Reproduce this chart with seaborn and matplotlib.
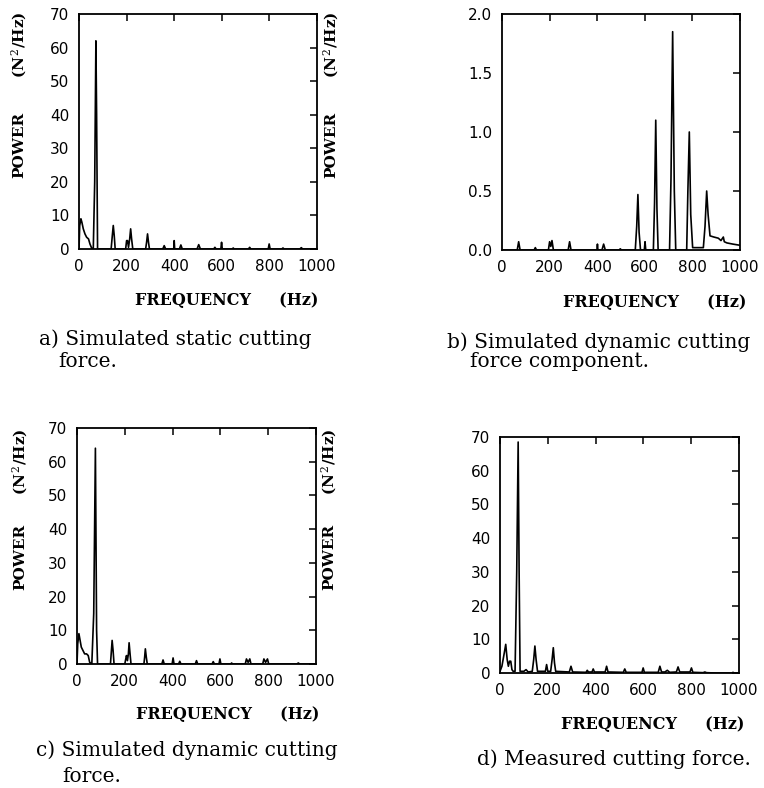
import matplotlib
matplotlib.use("Agg")
import matplotlib.pyplot as plt
import seaborn as sns
import pandas as pd

# ---- data (frequency Hz, power) ----
static_pts = [(0, 0), (3, 7), (8, 9), (12, 8), (18, 6), (25, 4.5), (32, 3.5), (40, 3), (46, 1.5),
              (53, 0.3), (60, 0), (66, 20), (71, 62), (74, 40), (78, 0), (135, 0), (140, 4),
              (144, 7), (148, 4), (152, 0), (196, 0), (200, 2.5), (204, 2.5), (208, 0.5),
              (213, 3), (217, 6), (221, 3), (226, 0), (280, 0), (284, 2), (288, 4.5), (292, 2),
              (296, 0), (352, 0), (358, 1), (364, 0), (398, 0), (400, 2.5), (402, 0), (422, 0),
              (428, 1.2), (434, 0), (496, 0), (503, 1.3), (510, 0), (566, 0), (571, 0.5),
              (576, 0), (596, 0), (599, 2), (602, 0), (644, 0), (648, 0.3), (652, 0), (712, 0),
              (717, 0.5), (722, 0), (795, 0), (799, 1.5), (803, 0), (852, 0), (857, 0.3),
              (862, 0), (928, 0), (934, 0.4), (940, 0), (1000, 0)]

dyn_comp_pts = [(0, 0), (64, 0), (70, 0.07), (76, 0), (135, 0), (140, 0.02), (145, 0), (195, 0),
                (200, 0.07), (205, 0.03), (210, 0.08), (216, 0), (278, 0), (284, 0.07), (290, 0),
                (399, 0), (401, 0.05), (403, 0), (420, 0), (427, 0.05), (434, 0), (492, 0),
                (497, 0.01), (502, 0), (560, 0), (566, 0.2), (571, 0.47), (576, 0.15), (582, 0),
                (598, 0), (601, 0.07), (604, 0), (636, 0), (641, 0.4), (646, 1.1), (651, 0.35),
                (656, 0), (704, 0), (710, 0.6), (717, 1.85), (724, 0.5), (730, 0), (776, 0),
                (781, 0.5), (787, 1.0), (793, 0.3), (801, 0.02), (846, 0.02), (853, 0.2),
                (860, 0.5), (866, 0.3), (874, 0.12), (890, 0.11), (909, 0.1), (920, 0.08),
                (930, 0.11), (934, 0.07), (945, 0.06), (970, 0.05), (1000, 0.04)]

dyn_force_pts = [(0, 0), (3, 6), (8, 9), (13, 7), (18, 5), (25, 4), (32, 3), (40, 3), (47, 2.5),
                 (53, 0.5), (62, 0), (70, 15), (77, 64), (82, 10), (86, 0), (140, 0), (144, 4),
                 (147, 7), (151, 4), (155, 0), (200, 0), (204, 1.5), (207, 2.5), (211, 1),
                 (215, 3), (218, 6.3), (222, 3), (226, 0), (280, 0), (283, 2), (286, 4.5),
                 (290, 2), (294, 0), (355, 0), (360, 1.2), (365, 0), (398, 0), (402, 1.8),
                 (406, 0), (425, 0), (430, 0.8), (435, 0), (495, 0), (500, 1), (505, 0),
                 (565, 0), (570, 0.7), (575, 0), (594, 0), (598, 1.5), (602, 0), (643, 0),
                 (647, 0.3), (651, 0), (704, 0), (709, 1.5), (716, 0.5), (723, 1.5), (728, 0),
                 (777, 0), (782, 1.5), (789, 0.5), (797, 1.5), (802, 0), (920, 0), (926, 0.3),
                 (932, 0), (1000, 0)]

measured_pts = [(0, 0.5), (8, 2), (18, 6), (24, 8.5), (30, 4), (35, 2), (40, 3.5), (45, 3.5),
                (50, 1), (55, 0.5), (63, 0.5), (70, 30), (76, 68.5), (80, 30), (84, 0.5),
                (100, 0.5), (109, 1), (118, 0.3), (135, 0.5), (141, 4), (146, 8), (151, 4),
                (157, 0.5), (190, 0.5), (195, 2.5), (200, 0.5), (212, 0.5), (218, 4), (223, 7.5),
                (228, 3), (233, 0.5), (290, 0.3), (297, 2), (304, 0.3), (360, 0.2), (365, 0.8),
                (370, 0.3), (385, 0.3), (390, 1.2), (395, 0.3), (440, 0.3), (446, 2), (452, 0.3),
                (516, 0.2), (522, 1.2), (528, 0.2), (594, 0.2), (599, 1.5), (604, 0.2),
                (662, 0.2), (669, 2), (676, 0.3), (690, 0.3), (700, 0.8), (710, 0.2), (738, 0.3),
                (745, 1.8), (752, 0.3), (795, 0.3), (801, 1.5), (807, 0.2), (850, 0.1),
                (857, 0.3), (864, 0.1), (900, 0), (970, 0), (975, 0.2), (980, 0), (1000, 0)]

x_ticks = [0, 200, 400, 600, 800, 1000]
y_ticks_force = [0, 10, 20, 30, 40, 50, 60, 70]
y_ticks_comp = [0.0, 0.5, 1.0, 1.5, 2.0]

captions = {
    "a": ("a) Simulated static cutting", "force."),
    "b": ("b) Simulated dynamic cutting", "force component."),
    "c": ("c) Simulated dynamic cutting", "force."),
    "d": ("d) Measured cutting force.", ""),
}
xlabel_text = "FREQUENCY     (Hz)"
ylabel_word = "POWER"
ylabel_unit = "(N$^{\\,2}$/Hz)"

# ---- style ----
sns.set_style("white")
plt.rcParams["font.family"] = ["DejaVu Sans"]
plt.rcParams["mathtext.fontset"] = "dejavuserif"

W, H = 764, 788
fig = plt.figure(figsize=(W / 100, H / 100), dpi=100)


def px_axes(l, t, r, b):
    return fig.add_axes([l / W, 1 - b / H, (r - l) / W, (b - t) / H])


serif = "DejaVu Serif"


def draw(ax, pts, yticks, ylim, fmt):
    df = pd.DataFrame(pts, columns=["freq", "power"])
    sns.lineplot(data=df, x="freq", y="power", ax=ax, color="black", lw=1.2,
                 estimator=None, sort=False)
    ax.set_xlim(0, 1000)
    ax.set_ylim(*ylim)
    ax.set_xticks(x_ticks)
    ax.set_yticks(yticks)
    ax.set_yticklabels([fmt.format(v) for v in yticks])
    ax.set_xlabel("")
    ax.set_ylabel("")
    ax.tick_params(direction="in", length=5, width=1.1, top=True, right=True,
                   labelsize=11, pad=7, colors="black")
    for s in ax.spines.values():
        s.set_linewidth(1.3)
        s.set_color("black")


axA = px_axes(79, 14, 317, 249)
draw(axA, static_pts, y_ticks_force, (0, 70), "{:.0f}")
axB = px_axes(502, 14, 740, 250)
draw(axB, dyn_comp_pts, y_ticks_comp, (0, 2.0), "{:.1f}")
axC = px_axes(77, 428, 316, 664)
draw(axC, dyn_force_pts, y_ticks_force, (0, 70), "{:.0f}")
axD = px_axes(500, 437, 739, 673)
draw(axD, measured_pts, y_ticks_force, (0, 70), "{:.0f}")


def ftext(x, y, s, **kw):
    fig.text(x / W, 1 - y / H, s, **kw)


lab_kw = dict(family=serif, fontsize=11.5, fontweight="bold", color="black")
ylab_kw = dict(family=serif, fontsize=11, fontweight="bold", color="black",
               rotation=90, ha="center", va="center")
cap_kw = dict(family=serif, fontsize=14.5, color="black", va="center", ha="left")

# x labels
ftext(227, 301, xlabel_text, ha="center", va="center", **lab_kw)
ftext(655, 303, xlabel_text, ha="center", va="center", **lab_kw)
ftext(228, 714, xlabel_text, ha="center", va="center", **lab_kw)
ftext(653, 725, xlabel_text, ha="center", va="center", **lab_kw)

# y labels (left and right, panels a and c)
for x in (19, 331):
    ftext(x, 145, ylabel_word, **ylab_kw)
    ftext(x, 45, ylabel_unit, **ylab_kw)
for x in (20, 329):
    ftext(x, 557, ylabel_word, **ylab_kw)
    ftext(x, 462, ylabel_unit, **ylab_kw)

# captions
ftext(39, 339, captions["a"][0], **cap_kw)
ftext(58, 361, captions["a"][1], **cap_kw)
ftext(447, 342, captions["b"][0], **cap_kw)
ftext(470, 361, captions["b"][1], **cap_kw)
ftext(36, 750, captions["c"][0], **cap_kw)
ftext(62, 776, captions["c"][1], **cap_kw)
ftext(477, 759, captions["d"][0], **cap_kw)

fig.savefig("out.png", dpi=100, facecolor="white")
